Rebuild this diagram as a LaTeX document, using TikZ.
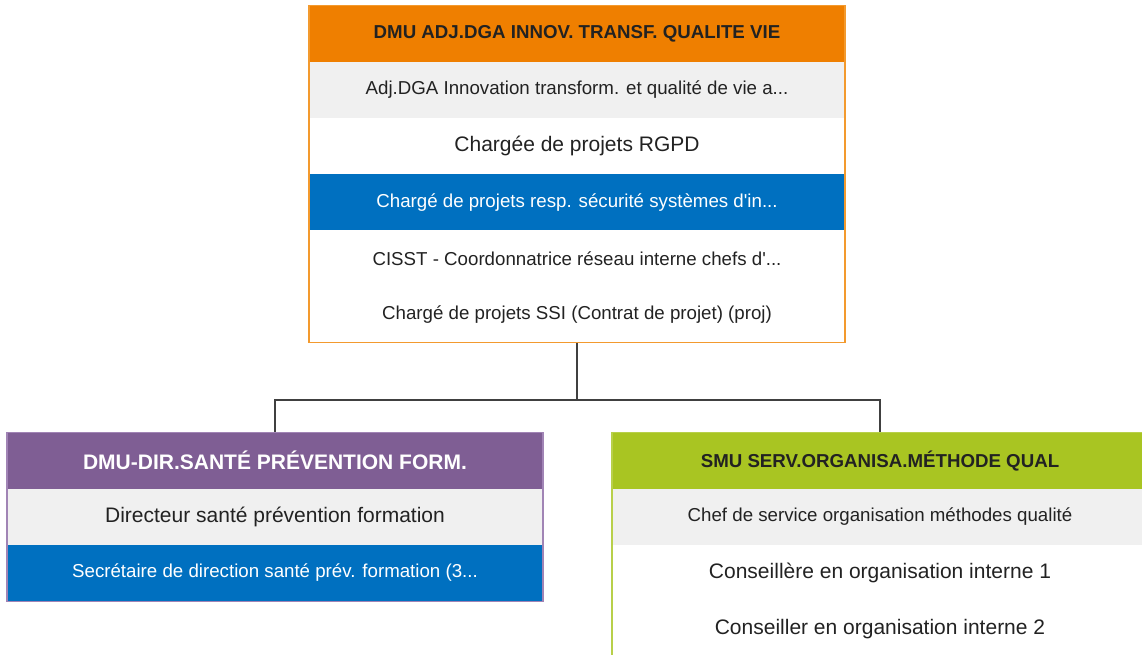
\documentclass[tikz,border=0pt]{standalone}
\usepackage{fontspec}
\setmainfont{Liberation Sans}
\usetikzlibrary{fit}

\definecolor{adjorange}{HTML}{EF7F00}
\definecolor{adjline}{HTML}{F39A2E}
\definecolor{dsppurple}{HTML}{7F5E94}
\definecolor{dspline}{HTML}{A184B5}
\definecolor{smugreen}{HTML}{A9C522}
\definecolor{smuline}{HTML}{B8D04A}
\definecolor{rowblue}{HTML}{0070C0}
\definecolor{rowgray}{HTML}{F0F0F0}
\definecolor{txtdark}{HTML}{222222}
\definecolor{linkgray}{HTML}{404040}

\begin{document}
\begin{tikzpicture}[x=1pt,y=-1pt,
    row/.style={minimum width=535.6pt,minimum height=56.2pt,inner sep=0pt,text=txtdark,
      font=\fontsize{18.7}{22}\selectfont},
    bigrow/.style={row,font=\fontsize{21}{25}\selectfont},
    head/.style={row,font=\fontsize{18.7}{22}\selectfont\bfseries},
    bighead/.style={row,font=\fontsize{21}{25}\selectfont\bfseries},
    frame/.style={inner sep=0pt,line width=1.4pt},
    link/.style={draw=linkgray,line width=1.6pt}]
    \useasboundingbox (0,0) rectangle (1142,655);
    \clip (0,0) rectangle (1142,655);

    \node[head,fill=adjorange] (adj) at (577,33.6) {DMU ADJ.DGA INNOV. TRANSF. QUALITE VIE};
    \node[row,fill=rowgray] (adj1) at (577,89.8) {Adj.DGA Innovation transform. et qualité de vie a...};
    \node[bigrow] (adj2) at (577,145.9) {Chargée de projets RGPD};
    \node[row,fill=rowblue,text=white] (adj3) at (577,202.1) {Chargé de projets resp. sécurité systèmes d\textquotesingle in...};
    \node[row] (adj4) at (577,258.3) {CISST - Coordonnatrice réseau interne chefs d\textquotesingle...};
    \node[row] (adj5) at (577,314.4) {Chargé de projets SSI (Contrat de projet) (proj)};
    \node[frame,draw=adjline,fit=(adj)(adj5)] (adjbox) {};

    \node[bighead,fill=dsppurple,text=white] (dsp) at (275,460.7) {DMU-DIR.SANTÉ PRÉVENTION FORM.};
    \node[bigrow,fill=rowgray] (dsp1) at (275,516.8) {Directeur santé prévention formation};
    \node[row,fill=rowblue,text=white] (dsp2) at (275,572.9) {Secrétaire de direction santé prév. formation (3...};
    \node[frame,draw=dspline,line width=1.2pt,fit=(dsp)(dsp2)] (dspbox) {};

    \node[head,fill=smugreen] (smu) at (880,460.7) {SMU SERV.ORGANISA.MÉTHODE QUAL};
    \node[row,fill=rowgray] (smu1) at (880,516.8) {Chef de service organisation méthodes qualité};
    \node[bigrow] (smu2) at (880,572.9) {Conseillère en organisation interne 1};
    \node[bigrow] (smu3) at (880,629.1) {Conseiller en organisation interne 2};
    \node[frame,draw=smuline,line width=1.2pt,fit=(smu)(smu3)] (smubox) {};

    \coordinate (split) at (577,400);
    \draw[link] (adjbox.south) -- (split);
    \draw[link] (split) -| (dspbox.north);
    \draw[link] (split) -| (smubox.north);
\end{tikzpicture}
\end{document}
